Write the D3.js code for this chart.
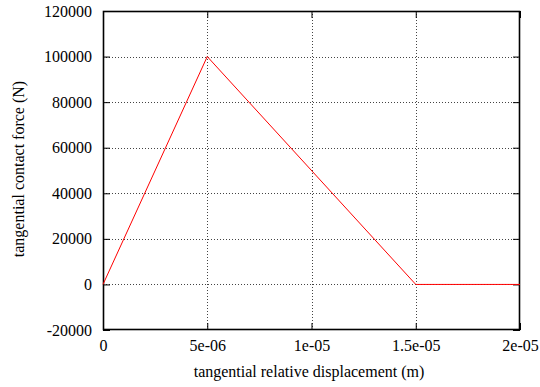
<!DOCTYPE html>
<html>
<head>
<meta charset="utf-8">
<script src="https://cdn.jsdelivr.net/npm/d3@7"></script>
<style>
  html, body { margin: 0; padding: 0; background: #fff; }
  svg { display: block; }
  text { font-family: "Liberation Serif", "Times New Roman", serif; fill: #000; }
</style>
</head>
<body>
<svg id="chart" width="540" height="387"></svg>
<script>
// Piecewise-linear traction-separation law
const displacement = [0, 5e-6, 1.5e-5, 2e-5];
const force = [0, 100000, 0, 0];

const xTicks = [0, 5e-6, 1e-5, 1.5e-5, 2e-5];
const xTickLabels = ["0", "5e-06", "1e-05", "1.5e-05", "2e-05"];
const yTicks = [-20000, 0, 20000, 40000, 60000, 80000, 100000, 120000];
const yTickLabels = ["-20000", "0", "20000", "40000", "60000", "80000", "100000", "120000"];

const margin = { left: 103, right: 20, top: 11, bottom: 57 };
const W = 540, H = 387;
const svg = d3.select("#chart");

const x = d3.scaleLinear().domain([0, 2e-5]).range([margin.left, W - margin.right]);
const y = d3.scaleLinear().domain([-20000, 120000]).range([H - margin.bottom, margin.top]);

const x0 = x.range()[0], x1 = x.range()[1];
const y0 = y.range()[0], y1 = y.range()[1];
const tickLen = 7;
const fontSize = 16;

// dotted grid
const grid = svg.append("g").attr("stroke", "#444").attr("stroke-width", 1)
  .attr("stroke-dasharray", "1,2").attr("shape-rendering", "crispEdges");
xTicks.slice(1, -1).forEach(v => {
  grid.append("line").attr("x1", Math.round(x(v)) + 0.5).attr("x2", Math.round(x(v)) + 0.5)
    .attr("y1", y0).attr("y2", y1);
});
yTicks.slice(1, -1).forEach(v => {
  grid.append("line").attr("y1", Math.round(y(v)) + 0.5).attr("y2", Math.round(y(v)) + 0.5)
    .attr("x1", x0).attr("x2", x1);
});

// axes with inward ticks on all four sides
const xAxisB = d3.axisBottom(x).tickValues(xTicks).tickSize(-tickLen).tickFormat((d, i) => xTickLabels[i]).tickPadding(10);
const xAxisT = d3.axisTop(x).tickValues(xTicks).tickSize(-tickLen).tickFormat("");
const yAxisL = d3.axisLeft(y).tickValues(yTicks).tickSize(-tickLen).tickFormat((d, i) => yTickLabels[i]).tickPadding(11);
const yAxisR = d3.axisRight(y).tickValues(yTicks).tickSize(-tickLen).tickFormat("");

function style(g) {
  g.attr("font-family", null).attr("font-size", fontSize);
  g.select(".domain").remove();
  g.selectAll(".tick line").attr("stroke", "#000").attr("stroke-width", 1);
  g.selectAll("text").attr("fill", "#000");
}
svg.append("g").attr("transform", `translate(0,${y0})`).call(xAxisB).call(style);
svg.append("g").attr("transform", `translate(0,${y1})`).call(xAxisT).call(style);
svg.append("g").attr("transform", `translate(${x0},0)`).call(yAxisL).call(style);
svg.append("g").attr("transform", `translate(${x1},0)`).call(yAxisR).call(style);

// frame
svg.append("rect").attr("x", x0 + 0.5).attr("y", y1 + 0.5)
  .attr("width", x1 - x0 - 1).attr("height", y0 - y1 - 1)
  .attr("fill", "none").attr("stroke", "#000").attr("stroke-width", 1.6);

// data curve
const line = d3.line().x((d, i) => x(displacement[i])).y((d, i) => y(force[i]));
svg.append("path").datum(displacement).attr("d", line)
  .attr("fill", "none").attr("stroke", "#ff0000").attr("stroke-width", 1);

// axis titles
svg.append("text").attr("x", 309).attr("y", 377).attr("text-anchor", "middle")
  .attr("font-size", fontSize).text("tangential relative displacement (m)");
svg.append("text").attr("transform", `translate(24,169) rotate(-90)`)
  .attr("text-anchor", "middle").attr("font-size", fontSize).text("tangential contact force (N)");
</script>
</body>
</html>
